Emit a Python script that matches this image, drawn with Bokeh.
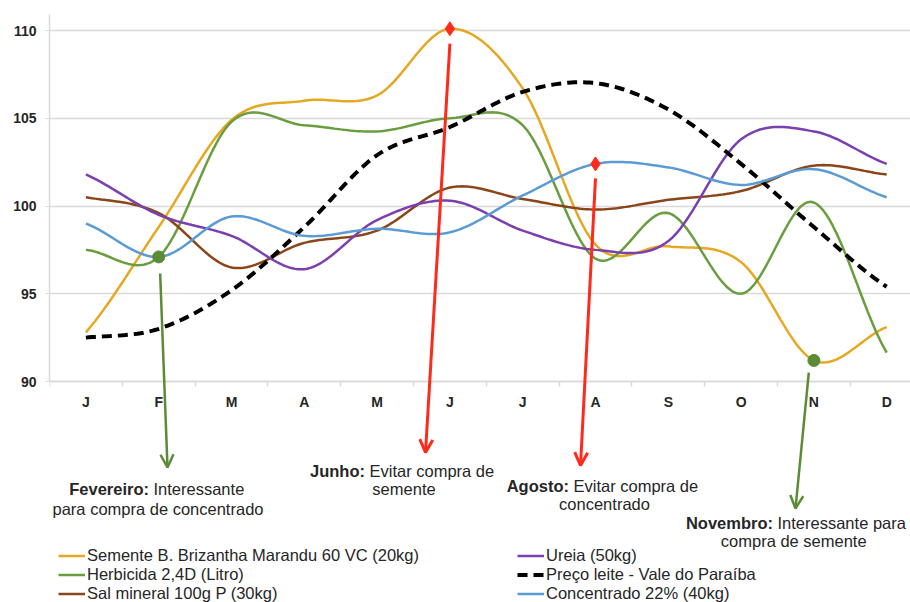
import numpy as np
from bokeh.plotting import figure
from bokeh.models import (FixedTicker, Arrow, OpenHead, Label, Legend, LegendItem, Range1d)
from bokeh.embed import file_html
from bokeh.resources import INLINE

# ---------------- data ----------------
months = ["J", "F", "M", "A", "M", "J", "J", "A", "S", "O", "N", "D"]
semente = [92.8, 98.8, 104.9, 106.0, 106.3, 110.1, 106.7, 97.8, 97.7, 96.8, 91.2, 93.1]
herbicida = [97.5, 97.1, 104.8, 104.6, 104.25, 105.0, 104.6, 97.0, 99.6, 95.0, 100.2, 91.65]
sal = [100.5, 99.6, 96.5, 97.9, 98.6, 101.05, 100.4, 99.8, 100.35, 100.85, 102.3, 101.8]
ureia = [101.8, 99.5, 98.3, 96.4, 99.2, 100.3, 98.6, 97.5, 98.0, 103.8, 104.25, 102.4]
leite = [92.5, 93.0, 95.2, 98.8, 102.9, 104.5, 106.5, 107.0, 105.5, 102.4, 98.8, 95.4]
concentrado = [99.0, 97.1, 99.4, 98.3, 98.7, 98.5, 100.6, 102.4, 102.2, 101.2, 102.1, 100.5]
y_ticks = [90, 95, 100, 105, 110]

series = [
    ("Semente B. Brizantha Marandu 60 VC (20kg)", semente, "#E6A823", "solid", 2.5),
    ("Herbicida 2,4D (Litro)", herbicida, "#6A9D3F", "solid", 2.5),
    ("Sal mineral 100g P (30kg)", sal, "#8A4519", "solid", 2.5),
    ("Ureia (50kg)", ureia, "#7B3FAE", "solid", 2.5),
    ("Preço leite - Vale do Paraíba", leite, "#000000", "10 6", 4),
    ("Concentrado 22% (40kg)", concentrado, "#5B9BD5", "solid", 2.5),
]

# ---------------- layout ----------------
W, H = 910, 602
FL, FT = 49, 14              # frame left / top in pixels
PX_J, PX_STEP = 85.4, 72.8    # pixel of first month, pixels per month
PY_90, PY_110 = 381, 30       # pixel rows of 90 and 110
XS = PX_STEP
YS = (PY_90 - PY_110) / 20.0


def dx(px):
    return (px - PX_J) / XS


def dy(py):
    return 90 - (py - PY_90) / YS


X0, X1 = dx(FL), dx(W)
Y0, Y1 = dy(H), dy(FT)


def smooth(vals, n=24):
    y = np.asarray(vals, dtype=float)
    k = len(y)
    m = np.zeros(k)
    m[1:-1] = (y[2:] - y[:-2]) / 2
    m[0] = (y[1] - y[0]) * 0.8
    m[-1] = (y[-1] - y[-2]) * 0.8
    xs, ys = [], []
    for i in range(k - 1):
        t = np.linspace(0, 1, n, endpoint=(i == k - 2))
        h00 = 2 * t**3 - 3 * t**2 + 1
        h10 = t**3 - 2 * t**2 + t
        h01 = -2 * t**3 + 3 * t**2
        h11 = t**3 - t**2
        xs.extend(i + t)
        ys.extend(h00 * y[i] + h10 * m[i] + h01 * y[i + 1] + h11 * m[i + 1])
    return xs, ys


FONT = "Liberation Sans"
TXT = "#262626"
GRID = "#d9d9d9"

p = figure(width=W, height=H, x_range=Range1d(X0, X1), y_range=Range1d(Y0, Y1),
           output_backend="svg", toolbar_location=None,
           min_border_left=FL, min_border_right=0, min_border_top=FT,
           min_border_bottom=0)
p.outline_line_color = None
p.background_fill_color = "white"
p.border_fill_color = "white"

p.xgrid.visible = False
p.ygrid.ticker = FixedTicker(ticks=y_ticks)
p.ygrid.grid_line_color = GRID
p.ygrid.grid_line_width = 1.5

ya = p.yaxis[0]
ya.ticker = FixedTicker(ticks=y_ticks)
ya.bounds = (90, Y1)
ya.axis_line_color = GRID
ya.axis_line_width = 1.5
ya.major_tick_line_color = GRID
ya.major_tick_out = 4
ya.major_tick_in = 0
ya.minor_tick_line_color = None
ya.major_label_standoff = 9
ya.major_label_text_font = FONT
ya.major_label_text_font_style = "bold"
ya.major_label_text_font_size = "14px"
ya.major_label_text_color = TXT

xa = p.xaxis[0]
xa.fixed_location = 90
xa.bounds = (-0.5, X1)
xa.ticker = FixedTicker(ticks=list(range(len(months))),
                        minor_ticks=[i - 0.5 for i in range(len(months) + 1)])
xa.major_label_overrides = {i: m for i, m in enumerate(months)}
xa.axis_line_color = GRID
xa.axis_line_width = 1.5
xa.major_tick_line_color = None
xa.major_tick_out = 0
xa.major_tick_in = 0
xa.minor_tick_line_color = GRID
xa.minor_tick_line_width = 1.5
xa.minor_tick_out = 5
xa.minor_tick_in = 0
xa.major_label_standoff = 7
xa.major_label_text_font = FONT
xa.major_label_text_font_style = "bold"
xa.major_label_text_font_size = "14px"
xa.major_label_text_color = TXT

renderers = {}
for name, vals, col, dash, lw in series:
    xs, ys = smooth(vals)
    r = p.line(xs, ys, line_color=col, line_width=lw, line_dash=dash)
    renderers[name] = r

# highlighted points
RED = "#FF2A1A"
GREEN = "#5B8C35"
p.scatter([5], [semente[5]], marker="diamond", size=14, color=RED)
p.scatter([7], [concentrado[7]], marker="diamond", size=14, color=RED)
p.scatter([1], [herbicida[1]], marker="circle", size=12, color=GREEN)
p.scatter([10], [semente[10]], marker="circle", size=12, color=GREEN)

# arrows
arrows = [
    (5, semente[5] - 0.85, dx(425), dy(452), RED, 3),
    (7, concentrado[7] - 0.83, dx(580), dy(465), RED, 3),
    (1.02, herbicida[1] - 0.95, dx(167), dy(467), GREEN, 2.5),
    (9.93, semente[10] - 0.7, dx(795), dy(508), GREEN, 2.5),
]
for xs_, ys_, xe, ye, col, lw in arrows:
    p.add_layout(Arrow(x_start=xs_, y_start=ys_, x_end=xe, y_end=ye,
                       line_color=col, line_width=lw,
                       end=OpenHead(size=13, line_color=col, line_width=lw)))

# annotation texts: (bold part, normal part, split px, y px) and plain lines
bold_lines = [
    ("Fevereiro:", "Interessante", 148.5, 488),
    ("Junho:", "Evitar compra de", 364.5, 470),
    ("Agosto:", "Evitar compra de", 568.5, 485),
    ("Novembro:", "Interessante para", 772.5, 522),
]
plain_lines = [
    ("para compra de concentrado", 157.5, 508),
    ("semente", 403.5, 488),
    ("concentrado", 604, 503),
    ("compra  de semente", 795.5, 540),
]
ANN_SIZE = "16.5px"
for b, n, sx, sy in bold_lines:
    p.add_layout(Label(x=dx(sx), y=dy(sy), text=b, text_align="right", text_baseline="middle",
                       text_font=FONT, text_font_style="bold", text_font_size=ANN_SIZE,
                       text_color=TXT))
    p.add_layout(Label(x=dx(sx + 4.5), y=dy(sy), text=n, text_align="left", text_baseline="middle",
                       text_font=FONT, text_font_size=ANN_SIZE, text_color=TXT))
for t, sx, sy in plain_lines:
    p.add_layout(Label(x=dx(sx), y=dy(sy), text=t, text_align="center", text_baseline="middle",
                       text_font=FONT, text_font_size=ANN_SIZE, text_color=TXT))

# legend
items = [LegendItem(label=name, renderers=[renderers[name]]) for name, *_ in series]
legend = Legend(items=items, ncols=2, location=(58 - FL, H - 603),
                label_text_font=FONT, label_text_font_size="16.5px", label_text_color=TXT,
                glyph_width=27, glyph_height=19, label_height=19, label_width=430,
                label_standoff=2, spacing=0, padding=0, margin=0,
                border_line_color=None, background_fill_alpha=0)
p.add_layout(legend, "center")

open("out.html", "w").write(file_html(p, INLINE))
